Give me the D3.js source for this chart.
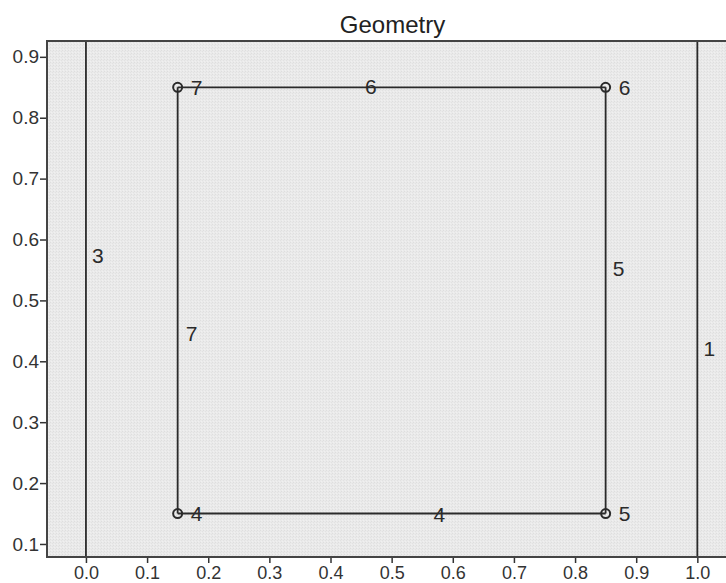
<!doctype html>
<html lang="en">
<head>
<meta charset="utf-8">
<script src="https://d3js.org/d3.v7.min.js"></script>
<title>Geometry</title>
<style>
  body { margin: 0; background: #fff; overflow: hidden; }
  text { font-family: "Liberation Sans", Arial, sans-serif; }
</style>
</head>
<body>
<svg id="chart"></svg>
<script>
  // geometry data
  const vertices = [
    { id: "4", x: 0.15, y: 0.15 },
    { id: "5", x: 0.85, y: 0.15 },
    { id: "6", x: 0.85, y: 0.85 },
    { id: "7", x: 0.15, y: 0.85 }
  ];
  // square edges
  const edges = [
    { id: "4", x1: 0.15, y1: 0.15, x2: 0.85, y2: 0.15, lx: 0.578, ly: 0.148 },
    { id: "5", x1: 0.85, y1: 0.15, x2: 0.85, y2: 0.85, lx: 0.871, ly: 0.553 },
    { id: "6", x1: 0.85, y1: 0.85, x2: 0.15, y2: 0.85, lx: 0.466, ly: 0.851 },
    { id: "7", x1: 0.15, y1: 0.85, x2: 0.15, y2: 0.15, lx: 0.173, ly: 0.446 }
  ];
  // boundary lines that run off the plot
  const boundaries = [
    { id: "3", x: 0.0, lx: 0.0196, ly: 0.574 },
    { id: "1", x: 1.0, lx: 1.0196, ly: 0.421 }
  ];
  const xTicks = [0.0, 0.1, 0.2, 0.3, 0.4, 0.5, 0.6, 0.7, 0.8, 0.9, 1.0];
  const yTicks = [0.1, 0.2, 0.3, 0.4, 0.5, 0.6, 0.7, 0.8, 0.9];

  const W = 726, H = 583;
  const margin = { top: 41, right: -12, bottom: 26, left: 47 };
  const width = W - margin.left - margin.right;
  const height = H - margin.top - margin.bottom;

  const svg = d3.select("#chart").attr("width", W).attr("height", H).style("display", "block");

  const defs = svg.append("defs");
  const pat = defs.append("pattern").attr("id", "grain")
    .attr("width", 3).attr("height", 3).attr("patternUnits", "userSpaceOnUse");
  pat.append("rect").attr("width", 3).attr("height", 3).attr("fill", "#eaeaea");
  pat.append("rect").attr("x", 0).attr("y", 0).attr("width", 1).attr("height", 1).attr("fill", "#dedede");
  pat.append("rect").attr("x", 2).attr("y", 1).attr("width", 1).attr("height", 1).attr("fill", "#e2e2e2");
  pat.append("rect").attr("x", 1).attr("y", 2).attr("width", 1).attr("height", 1).attr("fill", "#f0f0f0");

  const clip = defs.append("clipPath").attr("id", "plotclip");
  clip.append("rect").attr("width", width).attr("height", height);

  const xScale = d3.scaleLinear().domain([-0.0637, 1.0665]).range([0, width]);
  const yScale = d3.scaleLinear().domain([0.0786, 0.926]).range([height, 0]);

  const g = svg.append("g").attr("transform", `translate(${margin.left},${margin.top})`);

  g.append("rect").attr("width", width).attr("height", height).attr("fill", "url(#grain)");

  const plot = g.append("g").attr("clip-path", "url(#plotclip)");

  plot.selectAll("line.boundary")
    .data(boundaries)
    .join("line")
    .attr("class", "boundary")
    .attr("x1", d => xScale(d.x)).attr("x2", d => xScale(d.x))
    .attr("y1", 0).attr("y2", height)
    .attr("stroke", "#2a2a2a").attr("stroke-width", 1.8);

  plot.selectAll("line.edge")
    .data(edges)
    .join("line")
    .attr("class", "edge")
    .attr("x1", d => xScale(d.x1)).attr("y1", d => yScale(d.y1))
    .attr("x2", d => xScale(d.x2)).attr("y2", d => yScale(d.y2))
    .attr("stroke", "#2a2a2a").attr("stroke-width", 1.8);

  plot.selectAll("circle.vertex")
    .data(vertices)
    .join("circle")
    .attr("class", "vertex")
    .attr("cx", d => xScale(d.x)).attr("cy", d => yScale(d.y))
    .attr("r", 4.5)
    .attr("fill", "none").attr("stroke", "#2a2a2a").attr("stroke-width", 2);

  plot.selectAll("text.vlabel")
    .data(vertices)
    .join("text")
    .attr("class", "vlabel")
    .attr("x", d => xScale(d.x) + 13).attr("y", d => yScale(d.y))
    .attr("dy", "0.36em")
    .attr("font-size", 21).attr("fill", "#2a2a2a")
    .text(d => d.id);

  plot.selectAll("text.elabel")
    .data(edges.concat(boundaries))
    .join("text")
    .attr("class", "elabel")
    .attr("x", d => xScale(d.lx)).attr("y", d => yScale(d.ly))
    .attr("dy", "0.36em")
    .attr("text-anchor", "middle")
    .attr("font-size", 21).attr("fill", "#2a2a2a")
    .text(d => d.id);

  const xAxis = g.append("g")
    .attr("transform", `translate(0,${height})`)
    .call(d3.axisBottom(xScale).tickValues(xTicks).tickFormat(d3.format(".1f")).tickSize(6).tickPadding(3));
  const yAxis = g.append("g")
    .call(d3.axisLeft(yScale).tickValues(yTicks).tickFormat(d3.format(".1f")).tickSize(7).tickPadding(1));

  [xAxis, yAxis].forEach(a => {
    a.select(".domain").remove();
    a.selectAll(".tick line").attr("stroke", "#333").attr("stroke-width", 1.5);
    a.selectAll(".tick text").attr("font-size", 19).attr("fill", "#333")
      .attr("font-family", "'Liberation Sans', Arial, sans-serif");
  });
  xAxis.selectAll(".tick text").attr("font-size", 18);

  // frame: top, left, bottom
  g.append("path")
    .attr("d", `M${width},0H0V${height}H${width}`)
    .attr("fill", "none").attr("stroke", "#444").attr("stroke-width", 2);

  svg.append("text")
    .attr("x", margin.left + width / 2).attr("y", 33)
    .attr("text-anchor", "middle")
    .attr("font-size", 24).attr("fill", "#222")
    .text("Geometry");
</script>
</body>
</html>
